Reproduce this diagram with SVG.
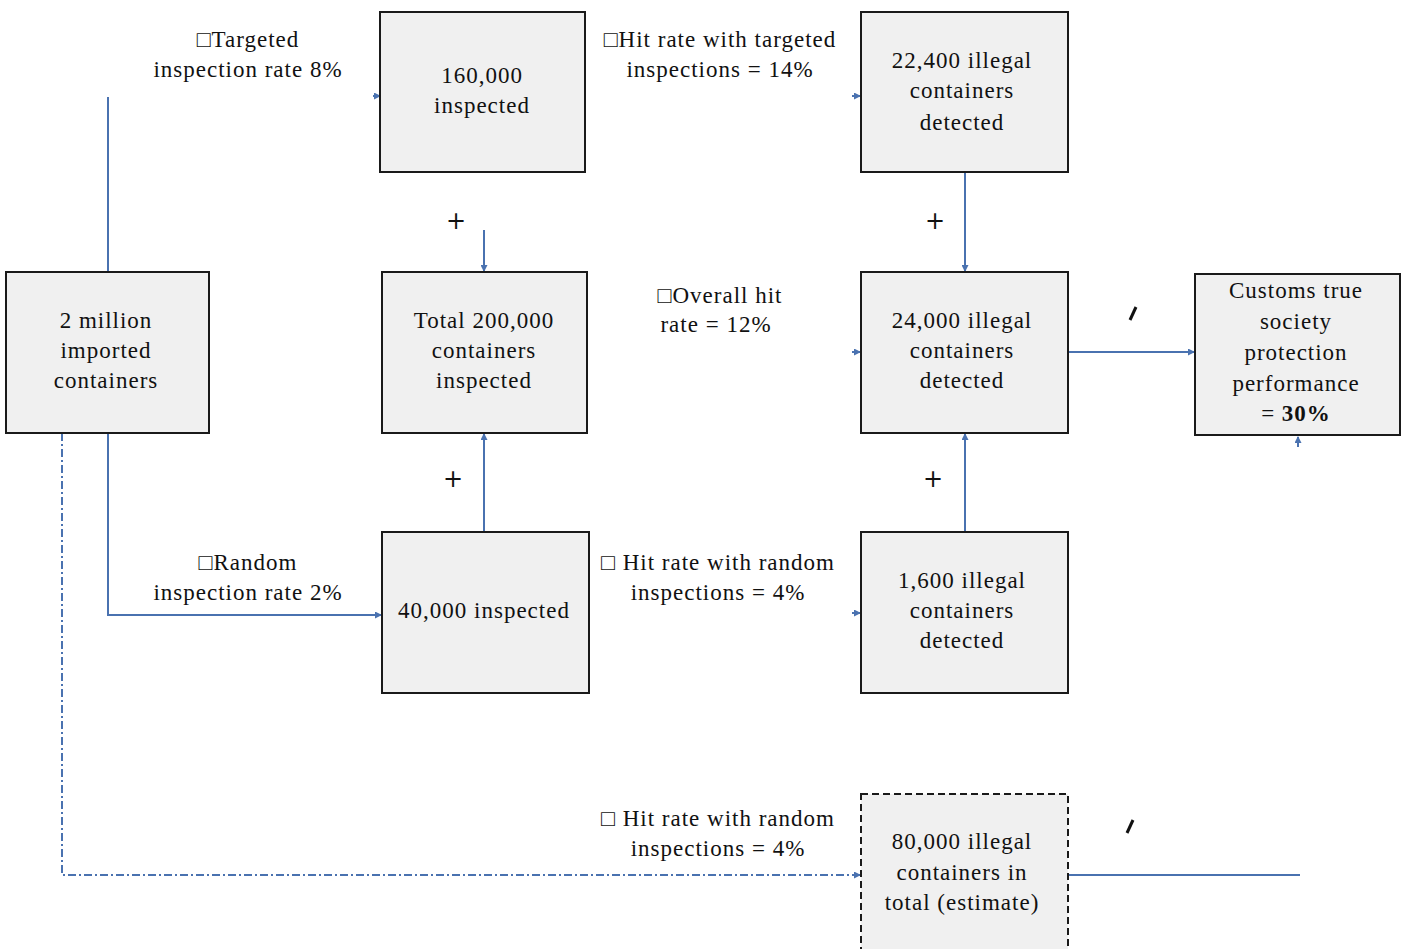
<svg xmlns="http://www.w3.org/2000/svg" width="1407" height="949" viewBox="0 0 1407 949">
<style>
.box{fill:#f0f0f0;stroke:#1a1a1a;stroke-width:2}
.dbox{fill:#f0f0f0;stroke:#1a1a1a;stroke-width:2;stroke-dasharray:7,4}
.t{font-family:"Liberation Serif","Times New Roman",serif;font-size:23px;letter-spacing:1px;fill:#111;text-anchor:middle}
.c{stroke:#4a72b0;stroke-width:2;fill:none}
.dc{stroke:#4a72b0;stroke-width:2;fill:none;stroke-dasharray:8,3,2,3}
.sym{font-family:"DejaVu Sans",sans-serif;font-size:24px;fill:#111;text-anchor:middle}
</style>
<defs>
<marker id="ah" markerWidth="7" markerHeight="7" refX="6" refY="3.5" orient="auto" markerUnits="userSpaceOnUse">
<path d="M0,0 L7,3.5 L0,7 Z" fill="#4a72b0"/>
</marker>
</defs>
<rect width="1407" height="949" fill="#ffffff"/>
<g id="connectors">
<line class="c" x1="108" y1="97" x2="108" y2="272"/>
<line class="c" x1="373" y1="96" x2="380" y2="96" marker-end="url(#ah)"/>
<polyline class="c" points="108,433 108,615 381,615" marker-end="url(#ah)"/>
<polyline class="dc" points="62,433 62,875 860,875" marker-end="url(#ah)"/>
<line class="c" x1="484" y1="230" x2="484" y2="271" marker-end="url(#ah)"/>
<line class="c" x1="484" y1="532" x2="484" y2="434" marker-end="url(#ah)"/>
<line class="c" x1="965" y1="172" x2="965" y2="271" marker-end="url(#ah)"/>
<line class="c" x1="965" y1="532" x2="965" y2="434" marker-end="url(#ah)"/>
<line class="c" x1="852" y1="96" x2="860" y2="96" marker-end="url(#ah)"/>
<line class="c" x1="852" y1="352" x2="860" y2="352" marker-end="url(#ah)"/>
<line class="c" x1="852" y1="613" x2="860" y2="613" marker-end="url(#ah)"/>
<line class="c" x1="1068" y1="352" x2="1194" y2="352" marker-end="url(#ah)"/>
<line class="c" x1="1068" y1="875" x2="1300" y2="875"/>
<line class="c" x1="1298" y1="447" x2="1298" y2="437" marker-end="url(#ah)"/>
</g>
<g id="labels">
<text class="t" x="248" y="47">□Targeted</text>
<text class="t" x="248" y="77">inspection rate 8%</text>
<text class="t" x="720" y="47">□Hit rate with targeted</text>
<text class="t" x="720" y="77">inspections = 14%</text>
<text class="t" x="720" y="303">□Overall hit</text>
<text class="t" x="716" y="332">rate = 12%</text>
<text class="t" x="248" y="570">□Random</text>
<text class="t" x="248" y="600">inspection rate 2%</text>
<text class="t" x="718" y="570">□ Hit rate with random</text>
<text class="t" x="718" y="600">inspections  = 4%</text>
<text class="t" x="718" y="826">□ Hit rate with random</text>
<text class="t" x="718" y="856">inspections  = 4%</text>
<text class="sym" x="456" y="229">+</text>
<text class="sym" x="453" y="487">+</text>
<text class="sym" x="935" y="229">+</text>
<text class="sym" x="933" y="487">+</text>
<line x1="1130" y1="320" x2="1136" y2="307" stroke="#111" stroke-width="3"/>
<line x1="1127" y1="833" x2="1133" y2="820" stroke="#111" stroke-width="3"/>
</g>
<g id="node-imported">
<rect class="box" x="6" y="272" width="203" height="161"/>
<text class="t" x="106" y="328">2 million</text>
<text class="t" x="106" y="358">imported</text>
<text class="t" x="106" y="388">containers</text>
</g>
<g id="node-targeted">
<rect class="box" x="380" y="12" width="205" height="160"/>
<text class="t" x="482" y="83">160,000</text>
<text class="t" x="482" y="113">inspected</text>
</g>
<g id="node-total">
<rect class="box" x="382" y="272" width="205" height="161"/>
<text class="t" x="484" y="328">Total 200,000</text>
<text class="t" x="484" y="358">containers</text>
<text class="t" x="484" y="388">inspected</text>
</g>
<g id="node-random">
<rect class="box" x="382" y="532" width="207" height="161"/>
<text class="t" x="484" y="618">40,000 inspected</text>
</g>
<g id="node-det-targeted">
<rect class="box" x="861" y="12" width="207" height="160"/>
<text class="t" x="962" y="68">22,400 illegal</text>
<text class="t" x="962" y="98">containers</text>
<text class="t" x="962" y="130">detected</text>
</g>
<g id="node-det-total">
<rect class="box" x="861" y="272" width="207" height="161"/>
<text class="t" x="962" y="328">24,000 illegal</text>
<text class="t" x="962" y="358">containers</text>
<text class="t" x="962" y="388">detected</text>
</g>
<g id="node-det-random">
<rect class="box" x="861" y="532" width="207" height="161"/>
<text class="t" x="962" y="588">1,600 illegal</text>
<text class="t" x="962" y="618">containers</text>
<text class="t" x="962" y="648">detected</text>
</g>
<g id="node-performance">
<rect class="box" x="1195" y="274" width="205" height="161"/>
<text class="t" x="1296" y="298">Customs true</text>
<text class="t" x="1296" y="329">society</text>
<text class="t" x="1296" y="360">protection</text>
<text class="t" x="1296" y="391">performance</text>
<text class="t" x="1296" y="421">= <tspan font-weight="bold">30%</tspan></text>
</g>
<g id="node-estimate">
<rect class="dbox" x="861" y="794" width="207" height="170"/>
<text class="t" x="962" y="849">80,000 illegal</text>
<text class="t" x="962" y="880">containers in</text>
<text class="t" x="962" y="910">total (estimate)</text>
</g>
</svg>
